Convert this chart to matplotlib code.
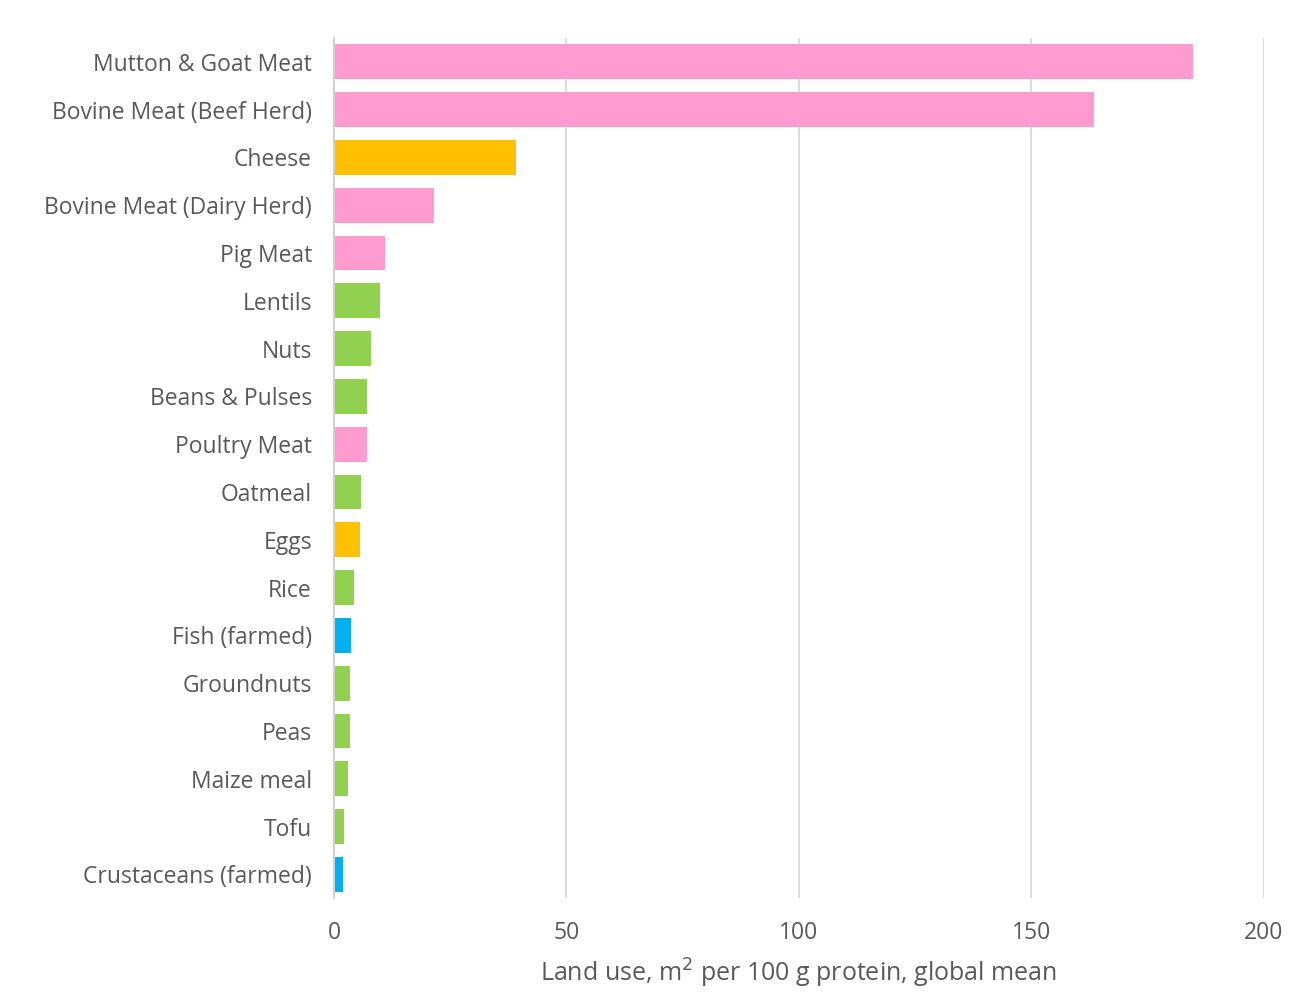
import matplotlib
matplotlib.use('Agg')
from matplotlib import pyplot as plt

foods = ["Mutton & Goat Meat", "Bovine Meat (Beef Herd)", "Cheese", "Bovine Meat (Dairy Herd)",
         "Pig Meat", "Lentils", "Nuts", "Beans & Pulses", "Poultry Meat", "Oatmeal", "Eggs",
         "Rice", "Fish (farmed)", "Groundnuts", "Peas", "Maize meal", "Tofu", "Crustaceans (farmed)"]
land_use = [184.8, 163.6, 39.2, 21.5, 10.9, 9.8, 8.0, 7.0, 7.0, 5.8, 5.5,
            4.2, 3.6, 3.4, 3.4, 3.0, 2.2, 2.0]
group = ["meat", "meat", "dairy", "meat", "meat", "plant", "plant", "plant", "meat", "plant", "dairy",
         "plant", "fish", "plant", "plant", "plant", "plant", "fish"]

colors = {"meat": "#FF9BCE", "dairy": "#FFC000", "plant": "#92D050", "fish": "#00B0F0"}
text_col = "#595959"

plt.rcParams['font.family'] = ['Open Sans', 'DejaVu Sans']

fig = plt.figure(figsize=(13, 9.97), dpi=100)
ax = fig.add_axes([0.257, 0.099, 0.715, 0.863])

ypos = list(range(len(foods)))
ax.barh(ypos, land_use, height=0.73, color=[colors[g] for g in group], zorder=3)
ax.set_ylim(len(foods) - 0.5, -0.5)
ax.set_xlim(0, 200)
ax.set_xticks([0, 50, 100, 150, 200])
ax.set_yticks(ypos)
ax.set_yticklabels(foods, fontsize=16.5)

# light vertical gridlines only
ax.grid(axis='x', color='#d9d9d9', linewidth=1.3, zorder=0)
for s in ['top', 'right', 'bottom']:
    ax.spines[s].set_visible(False)
ax.spines['left'].set_color('#d0d0d0')
ax.spines['left'].set_linewidth(1.5)
ax.spines['left'].set_zorder(4)

ax.tick_params(axis='both', length=0, labelcolor=text_col)
ax.tick_params(axis='x', labelsize=16.5, pad=16)
ax.tick_params(axis='y', pad=16)
ax.set_xlabel("Land use, m$^2$ per 100 g protein, global mean", fontsize=18, color=text_col, labelpad=9)

plt.savefig('out.png', dpi=100)
